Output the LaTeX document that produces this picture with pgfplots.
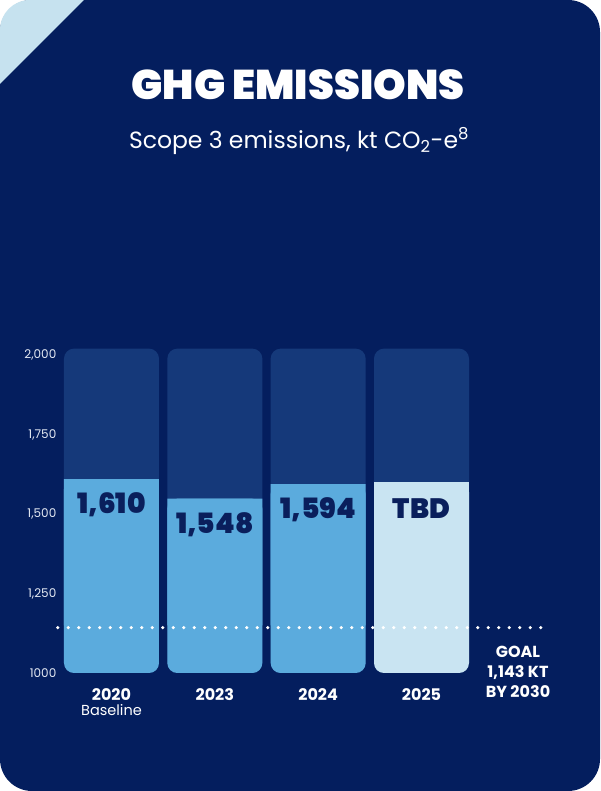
\documentclass[border=0pt]{standalone}
\usepackage{pgfplots}
\pgfplotsset{compat=1.18}
\usepackage{fontspec}
\setmainfont{Poppins}
\newfontfamily\heavy{Poppins}[UprightFont=* Black]
\definecolor{navy}{HTML}{041E5E}
\definecolor{barbg}{HTML}{15397A}
\definecolor{barblue}{HTML}{5BABDD}
\definecolor{barlight}{HTML}{C9E4F2}
\definecolor{cornerc}{HTML}{C6E2EF}
\definecolor{tickc}{HTML}{E4E9F3}
\definecolor{labelnavy}{HTML}{0A1F5C}
\begin{document}
\begin{tikzpicture}
\useasboundingbox (0pt,0pt) rectangle (600pt,791pt);
\fill[white] (0pt,0pt) rectangle (600pt,791pt);
\fill[navy, rounded corners=32pt] (0pt,0pt) rectangle (600pt,791pt);
\begin{scope}
\clip[rounded corners=30pt] (0pt,0pt) rectangle (600pt,791pt);
\fill[cornerc] (0pt,791pt) -- (84pt,791pt) -- (0pt,707pt) -- cycle;
\end{scope}
\node[anchor=base, text=white, inner sep=0pt, font=\heavy\fontsize{41.5}{44}\selectfont] at (298pt,691pt) {GHG EMISSIONS};
\node[anchor=base, text=white, inner sep=0pt, font=\fontsize{23.5}{26}\selectfont] at (299pt,642pt) {Scope 3 emissions, kt CO\textsubscript{2}-e\textsuperscript{8}};

\pgfplotsset{common/.style={scale only axis, width=516.67pt, height=330.72pt,
  xmin=-0.5, xmax=4.5, at={(59.83pt,118pt)}, anchor=south west, clip=false,
  axis line style={draw=none}, major tick length=0pt}}

\begin{axis}[common, y filter/.expression={y-1000}, ymin=0, ymax=1040,
  ytick={0,250,500,750,1000}, yticklabels={1000,{1,250},{1,500},{1,750},{2,000}},
  yticklabel style={text=tickc, font=\fontsize{12}{12}\selectfont},
  xtick={0,1,2,3},
  xticklabels={{\bfseries\fontsize{16}{18}\selectfont 2020\\[3pt]\mdseries\fontsize{14.5}{18}\selectfont Baseline},
    {\bfseries\fontsize{16}{18}\selectfont 2023},
    {\bfseries\fontsize{16}{18}\selectfont 2024},
    {\bfseries\fontsize{16}{18}\selectfont 2025}},
  xticklabel style={text=white, anchor=north, align=center, inner sep=0pt, yshift=-15pt}]
\addplot[ybar, bar width=95pt, bar shift=0pt, fill=barbg, draw=none, rounded corners=10pt]
  coordinates {(0,2020) (1,2020) (2,2020) (3,2020)};
\addplot[ybar, bar width=95pt, bar shift=0pt, fill=barblue, draw=none, rounded corners=10pt]
  coordinates {(0,1610) (1,1548) (2,1594)};
\addplot[ybar, bar width=95pt, bar shift=0pt, fill=barlight, draw=none, rounded corners=10pt]
  coordinates {(3,1600)};
\end{axis}

\begin{axis}[common, y filter/.expression={y-1150}, ymin=-150, ymax=890,
  xtick=\empty, ytick=\empty]
\addplot[ybar, bar width=95pt, bar shift=0pt, fill=barblue, draw=none,
  nodes near coords, point meta=explicit symbolic,
  every node near coord/.style={anchor=center, yshift=-26pt, text=labelnavy, font=\heavy\fontsize{28}{28}\selectfont}]
  coordinates {(0,1610) [1,610] (1,1548) [1,548] (2,1594) [1,594]};
\addplot[ybar, bar width=95pt, bar shift=0pt, fill=barlight, draw=none,
  nodes near coords, point meta=explicit symbolic,
  every node near coord/.style={anchor=center, yshift=-26pt, text=labelnavy, font=\heavy\fontsize{28}{28}\selectfont}]
  coordinates {(3,1600) [TBD]};
\addplot[white, line width=3.5pt, line cap=round, dash pattern=on 0pt off 10.5pt]
  coordinates {(-0.52,1143) (4.18,1143)};
\end{axis}

\node[align=center, anchor=north, text=white, inner sep=0pt, font=\bfseries\fontsize{16}{20}\selectfont] at (518pt,145pt) {GOAL\\1,143 KT\\BY 2030};
\end{tikzpicture}
\end{document}
